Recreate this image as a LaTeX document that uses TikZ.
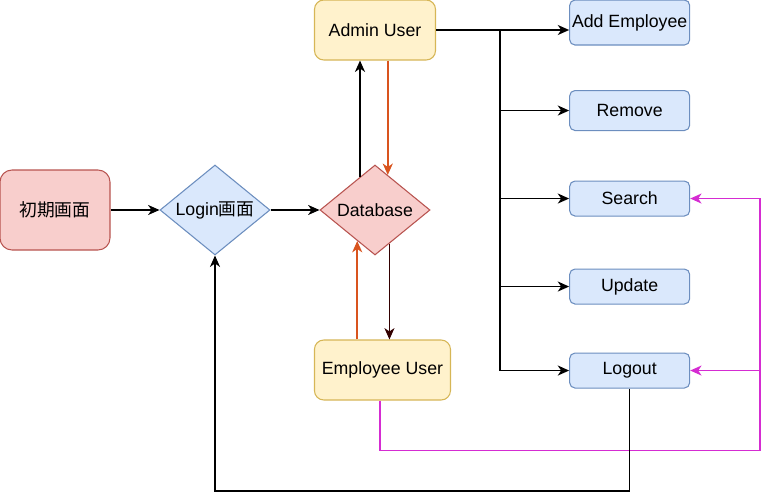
\documentclass[tikz,border=0pt]{standalone}
\usepackage{fontspec}
\setmainfont{Liberation Sans}
\newfontfamily\jpfont{Noto Sans CJK JP}
\usetikzlibrary{shapes.geometric,arrows.meta,calc}

\definecolor{redfill}{HTML}{F8CECC}
\definecolor{redline}{HTML}{B85450}
\definecolor{bluefill}{HTML}{DAE8FC}
\definecolor{blueline}{HTML}{6C8EBF}
\definecolor{yellowfill}{HTML}{FFF2CC}
\definecolor{yellowline}{HTML}{D6B656}
\definecolor{orangeedge}{HTML}{D9541E}
\definecolor{brownedge}{HTML}{330000}
\definecolor{pinkedge}{HTML}{D52CD2}

\begin{document}
\begin{tikzpicture}[
            node distance=120pt,
            font=\fontsize{13.3}{16}\selectfont,
            startbox/.style={rectangle, draw=redline, fill=redfill, line width=0.8pt, rounded corners=9pt, minimum width=82.5pt, minimum height=60pt, text centered},
            decision/.style={diamond, draw, line width=0.8pt, aspect=1.5, inner sep=0pt, minimum width=82.5pt, minimum height=67.5pt, text centered},
            userbox/.style={rectangle, draw=yellowline, fill=yellowfill, line width=0.8pt, rounded corners=7pt, minimum height=45pt, inner sep=1pt, text centered},
            menubox/.style={rectangle, draw=blueline, fill=bluefill, line width=0.8pt, rounded corners=4pt, minimum width=90pt, minimum height=26.25pt, inner sep=1pt, text centered},
            arrow/.style={-{Stealth[length=8.5pt,width=7.5pt,inset=2.5pt]}, line width=1.2pt},
            orangearrow/.style={arrow, draw=orangeedge},
            brownarrow/.style={arrow, draw=brownedge},
            pinkarrow/.style={arrow, draw=pinkedge}
            ]
            \useasboundingbox (-41.25pt,157.5pt) rectangle (536.25pt,-217.5pt);

            % Screens
            \node[startbox] (init) {\jpfont 初期画面};
            \node[decision, draw=blueline, fill=bluefill, right of=init] (login) {Login{\jpfont 画面}};
            \node[decision, draw=redline, fill=redfill, right of=login] (db) {Database};

            % Users
            \node[userbox, minimum width=90.75pt, above of=db, yshift=15pt] (admin) {Admin User};
            \node[userbox, minimum width=102pt, below of=db, xshift=5.6pt] (employee) {Employee User};

            % Menu
            \node[menubox, minimum height=33.75pt, right of=admin, xshift=71pt, yshift=5.6pt] (addemp) {Add Employee};
            \node[menubox, minimum height=30pt, below of=addemp, node distance=66pt] (remove) {Remove};
            \node[menubox, below of=remove, node distance=66pt] (search) {Search};
            \node[menubox, below of=search, node distance=66pt] (update) {Update};
            \node[menubox, below of=update, node distance=63pt] (logout) {Logout};

            % Helper points
            \coordinate (dbupleft) at ($(db.north)!0.27!(db.west)$);
            \coordinate (dbupright) at ($(db.north)!0.23!(db.east)$);
            \coordinate (dbdownleft) at ($(db.south)!0.32!(db.west)$);
            \coordinate (dbdownright) at ($(db.south)!0.26!(db.east)$);
            \coordinate (trunk) at ($(admin.east)+(48pt,0)$);
            \coordinate (pinkdown) at ($([xshift=-2pt]employee.south)+(0,-37.5pt)$);
            \coordinate (pinkright) at ($(search.east)+(52.5pt,0)$);
            \coordinate (backdown) at ($(logout.south)+(0,-77pt)$);

            % Arrows
            \draw[arrow] (init) -- (login);
            \draw[arrow] (login) -- (db);
            \draw[arrow] (dbupleft) -- (dbupleft |- admin.south);
            \draw[orangearrow] (dbupright |- admin.south) -- (dbupright);
            \draw[orangearrow] (dbdownleft |- employee.north) -- (dbdownleft);
            \draw[brownarrow] (dbdownright) -- (dbdownright |- employee.north);
            \draw[arrow] (admin.east) -- (admin.east -| addemp.west);
            \draw[arrow] (trunk) |- (remove.west);
            \draw[arrow] (trunk) |- (search.west);
            \draw[arrow] (trunk) |- (update.west);
            \draw[arrow] (trunk) |- (logout.west);
            \draw[pinkarrow] ([xshift=-2pt]employee.south) -- (pinkdown) -| (pinkright) -- (search.east);
            \draw[pinkarrow] (pinkright |- logout.east) -- (logout.east);
            \draw[arrow] (logout.south) -- (backdown) -| (login.south);

        \end{tikzpicture}
\end{document}
